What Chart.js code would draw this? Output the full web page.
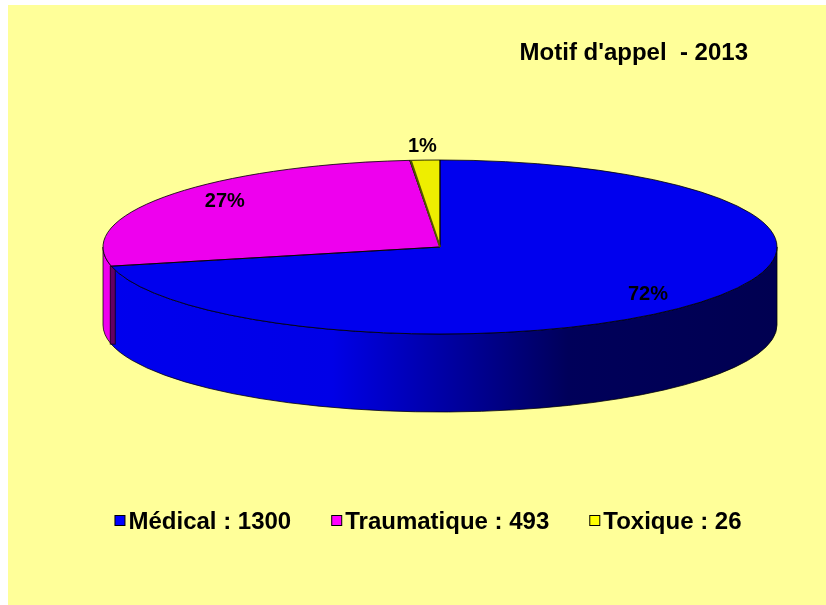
<!DOCTYPE html>
<html>
<head>
<meta charset="utf-8">
<script src="https://cdn.jsdelivr.net/npm/chart.js@4.4.1/dist/chart.umd.min.js"></script>
<style>
    html, body { margin: 0; padding: 0; background: #ffffff; }
    #frame { position: absolute; left: 8px; top: 5px; width: 818px; height: 600px; background: #FFFF99; }
    #wrap { position: absolute; left: 0; top: 0; width: 826px; height: 605px; }
</style>
</head>
<body>
<div id="frame"></div>
<div id="wrap"><canvas id="motifChart" width="826" height="605"></canvas></div>
<script>
const categories = ['Médical', 'Traumatique', 'Toxique'];
const appels = [1300, 493, 26];
const sliceColors = ['#0000EE', '#EE00EE', '#EEEE00'];
const legendColors = ['#0000FF', '#FF00FF', '#FFFF00'];
const chartTitle = "Motif d'appel  - 2013";

const FONT = '"Liberation Sans", Arial, sans-serif';
const DEPTH = 78;

function shade(hex, f) {
    const n = parseInt(hex.slice(1), 16);
    const r = Math.round(((n >> 16) & 255) * f);
    const g = Math.round(((n >> 8) & 255) * f);
    const b = Math.round((n & 255) * f);
    return `rgb(${r}, ${g}, ${b})`;
}

// Excel style rounding: the percents always add up to 100
function percentLabels(values) {
    const total = values.reduce((s, v) => s + v, 0);
    const raw = values.map(v => v / total * 100);
    const out = raw.map(v => Math.floor(v));
    const left = 100 - out.reduce((s, v) => s + v, 0);
    const order = raw.map((v, i) => i).sort((a, b) => (raw[b] - out[b]) - (raw[a] - out[a]));
    for (let j = 0; j < left; j++) out[order[j]]++;
    return out;
}

// visible part of a slice on the front wall (angles 0..PI, or 2PI..3PI)
function frontRange(a1, a2) {
    const ranges = [];
    [[0, Math.PI], [2 * Math.PI, 3 * Math.PI]].forEach(([lo, hi]) => {
        const s = Math.max(a1, lo), e = Math.min(a2, hi);
        if (e > s) ranges.push([s, e]);
    });
    return ranges;
}

function arcProps(el) {
    return el.getProps(['x', 'y', 'startAngle', 'endAngle', 'outerRadius'], true);
}

const pie3d = {
    id: 'pie3d',
    beforeDatasetsDraw(chart) {
        const ctx = chart.ctx;
        const area = chart.chartArea;
        const k = area.width / area.height;
        const meta = chart.getDatasetMeta(0);

        meta.data.forEach((el, i) => {
            const p = arcProps(el);
            const rx = p.outerRadius * k, ry = p.outerRadius;
            const grad = ctx.createLinearGradient(p.x - rx, 0, p.x + rx, 0);
            grad.addColorStop(0, sliceColors[i]);
            grad.addColorStop(0.34, shade(sliceColors[i], 0.97));
            grad.addColorStop(0.69, shade(sliceColors[i], 0.38));
            grad.addColorStop(1, shade(sliceColors[i], 0.34));
            frontRange(p.startAngle, p.endAngle).forEach(([s, e]) => {
                ctx.save();
                ctx.beginPath();
                ctx.ellipse(p.x, p.y, rx, ry, 0, s, e);
                ctx.lineTo(p.x + rx * Math.cos(e), p.y + ry * Math.sin(e) + DEPTH);
                ctx.ellipse(p.x, p.y + DEPTH, rx, ry, 0, e, s, true);
                ctx.closePath();
                ctx.fillStyle = grad;
                ctx.fill();
                ctx.lineWidth = 1;
                ctx.strokeStyle = 'rgba(0, 0, 0, 0.75)';
                ctx.stroke();
                ctx.restore();
            });
            // dark cut face where a slice begins on the front wall
            const s0 = ((p.startAngle % (2 * Math.PI)) + 2 * Math.PI) % (2 * Math.PI);
            if (s0 > 0.01 && s0 < Math.PI - 0.01) {
                const bx = p.x + rx * Math.cos(s0), by = p.y + ry * Math.sin(s0);
                ctx.save();
                ctx.fillStyle = shade(sliceColors[i], 0.42);
                ctx.fillRect(bx - 1, by, 5, DEPTH);
                ctx.strokeStyle = 'rgba(0, 0, 0, 0.7)';
                ctx.lineWidth = 1;
                ctx.strokeRect(bx - 1, by, 5, DEPTH);
                ctx.restore();
            }
        });

        // squash the library's circle into the top ellipse
        const cx = (area.left + area.right) / 2;
        ctx.save();
        ctx.translate(cx, 0);
        ctx.scale(k, 1);
        ctx.translate(-cx, 0);
    },
    afterDatasetsDraw(chart) {
        const ctx = chart.ctx;
        ctx.restore();
        const area = chart.chartArea;
        const k = area.width / area.height;
        const meta = chart.getDatasetMeta(0);
        const values = chart.data.datasets[0].data;
        const total = values.reduce((s, v) => s + v, 0);
        const pcts = percentLabels(values);

        meta.data.forEach((el, i) => {
            const p = arcProps(el);
            ctx.save();
            ctx.translate(p.x, 0);
            ctx.scale(k, 1);
            ctx.translate(-p.x, 0);
            ctx.beginPath();
            ctx.moveTo(p.x, p.y);
            ctx.arc(p.x, p.y, p.outerRadius, p.startAngle, p.endAngle);
            ctx.closePath();
            ctx.restore();
            ctx.save();
            ctx.lineWidth = 1;
            ctx.strokeStyle = 'rgba(0, 0, 0, 0.8)';
            ctx.stroke();
            ctx.restore();
        });

        // olive edge on the thin slice, as in the original
        const last = arcProps(meta.data[meta.data.length - 1]);
        ctx.save();
        ctx.strokeStyle = shade(sliceColors[sliceColors.length - 1], 0.35);
        ctx.lineWidth = 2;
        ctx.beginPath();
        ctx.moveTo(last.x, last.y);
        ctx.lineTo(last.x + last.outerRadius * k * Math.cos(last.startAngle) + 1,
                   last.y + last.outerRadius * Math.sin(last.startAngle));
        ctx.stroke();
        ctx.restore();

        meta.data.forEach((el, i) => {
            const p = arcProps(el);
            const mid = (p.startAngle + p.endAngle) / 2;
            const small = values[i] / total < 0.05;
            const fx = small ? 1.16 : 0.79;
            const fy = small ? 1.16 : 0.88;
            const x = p.x + p.outerRadius * k * fx * Math.cos(mid);
            const y = p.y + p.outerRadius * fy * Math.sin(mid);
            ctx.save();
            ctx.font = `bold 20px ${FONT}`;
            ctx.fillStyle = '#000000';
            ctx.textAlign = 'center';
            ctx.textBaseline = 'middle';
            ctx.fillText(pcts[i] + '%', x, y);
            ctx.restore();
        });
    },
    afterDraw(chart) {
        const ctx = chart.ctx;
        ctx.save();
        ctx.fillStyle = '#000000';
        ctx.font = `bold 24px ${FONT}`;
        ctx.textAlign = 'right';
        ctx.textBaseline = 'alphabetic';
        ctx.fillText(chartTitle, 748, 60);

        // legend
        ctx.font = `bold 24px ${FONT}`;
        ctx.textAlign = 'left';
        const items = categories.map((c, i) => `${c} : ${chart.data.datasets[0].data[i]}`);
        const box = 10, boxGap = 4, itemGap = 40;
        const widths = items.map(t => box + boxGap + ctx.measureText(t).width);
        const totalW = widths.reduce((s, w) => s + w, 0) + itemGap * (items.length - 1);
        let x = 428 - totalW / 2;
        items.forEach((t, i) => {
            ctx.fillStyle = legendColors[i];
            ctx.fillRect(x + 0.5, 515.5, box, box);
            ctx.strokeStyle = '#000000';
            ctx.lineWidth = 1;
            ctx.strokeRect(x + 0.5, 515.5, box, box);
            ctx.fillStyle = '#000000';
            ctx.fillText(t, x + box + boxGap, 529);
            x += widths[i] + itemGap;
        });
        ctx.restore();
    }
};

const ctx = document.getElementById('motifChart').getContext('2d');
const motifChart = new Chart(ctx, {
    type: 'pie',
    data: {
        labels: categories,
        datasets: [{
            data: appels,
            backgroundColor: sliceColors,
            borderWidth: 0
        }]
    },
    options: {
        responsive: false,
        animation: false,
        events: [],
        layout: {
            padding: { left: 103, right: 49, top: 160, bottom: 271 }
        },
        plugins: {
            legend: { display: false },
            title: { display: false },
            tooltip: { enabled: false }
        }
    },
    plugins: [pie3d]
});
</script>
</body>
</html>
